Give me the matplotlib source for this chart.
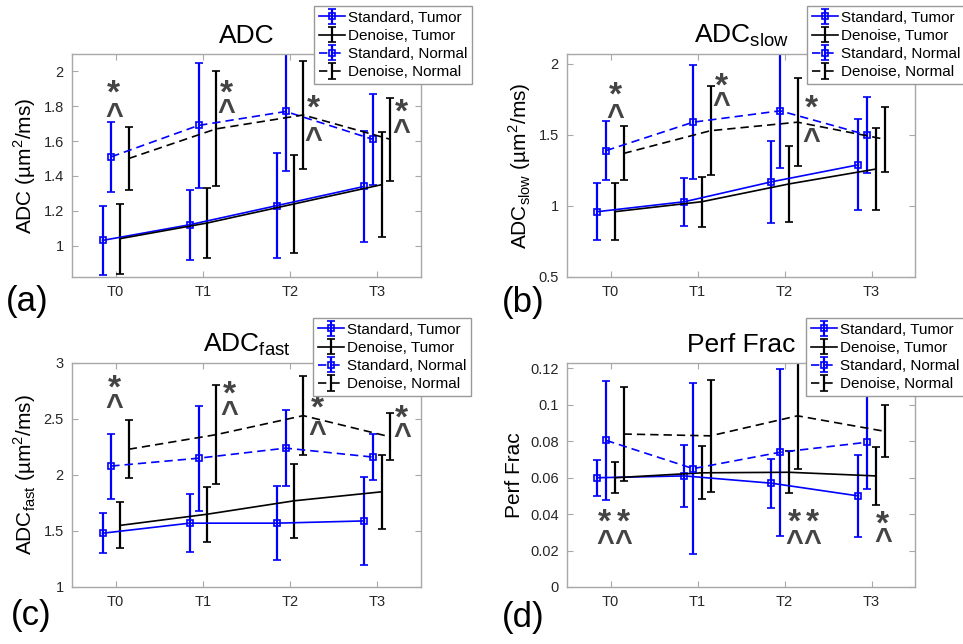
import matplotlib
matplotlib.use("Agg")
import matplotlib.pyplot as plt
import matplotlib.transforms as mtransforms
import numpy as np

plt.rcParams['font.family'] = ['Liberation Sans', 'DejaVu Sans']
plt.rcParams['mathtext.fontset'] = 'custom'
plt.rcParams['mathtext.rm'] = 'Liberation Sans'

timepoints = ['T0', 'T1', 'T2', 'T3']
series_labels = ['Standard, Tumor', 'Denoise, Tumor', 'Standard, Normal', 'Denoise, Normal']

# ADC
adc_std_tumor = [1.03, 1.12, 1.23, 1.34]
adc_std_tumor_err = [0.20, 0.20, 0.30, 0.32]
adc_den_tumor = [1.04, 1.13, 1.24, 1.35]
adc_den_tumor_err = [0.20, 0.20, 0.28, 0.30]
adc_std_normal = [1.51, 1.69, 1.77, 1.61]
adc_std_normal_err = [0.20, 0.36, 0.34, 0.26]
adc_den_normal = [1.50, 1.67, 1.75, 1.61]
adc_den_normal_err = [0.18, 0.33, 0.31, 0.24]

# ADC slow
slow_std_tumor = [0.96, 1.03, 1.17, 1.29]
slow_std_tumor_err = [0.20, 0.17, 0.29, 0.32]
slow_den_tumor = [0.96, 1.03, 1.155, 1.26]
slow_den_tumor_err = [0.20, 0.175, 0.27, 0.29]
slow_std_normal = [1.39, 1.59, 1.67, 1.50]
slow_std_normal_err = [0.21, 0.40, 0.40, 0.27]
slow_den_normal = [1.37, 1.53, 1.59, 1.47]
slow_den_normal_err = [0.19, 0.315, 0.31, 0.23]

# ADC fast
fast_std_tumor = [1.48, 1.57, 1.57, 1.59]
fast_std_tumor_err = [0.18, 0.26, 0.33, 0.39]
fast_den_tumor = [1.55, 1.65, 1.77, 1.85]
fast_den_tumor_err = [0.205, 0.245, 0.33, 0.33]
fast_std_normal = [2.08, 2.15, 2.24, 2.16]
fast_std_normal_err = [0.29, 0.47, 0.34, 0.205]
fast_den_normal = [2.23, 2.36, 2.53, 2.34]
fast_den_normal_err = [0.26, 0.44, 0.355, 0.21]

# Perfusion fraction
pf_std_tumor = [0.060, 0.061, 0.057, 0.050]
pf_std_tumor_err = [0.010, 0.017, 0.0135, 0.0225]
pf_den_tumor = [0.060, 0.0627, 0.063, 0.061]
pf_den_tumor_err = [0.0085, 0.0145, 0.0115, 0.0157]
pf_std_normal = [0.0805, 0.065, 0.074, 0.0795]
pf_std_normal_err = [0.0325, 0.047, 0.0458, 0.0256]
pf_den_normal = [0.084, 0.083, 0.094, 0.0855]
pf_den_normal_err = [0.0257, 0.0307, 0.0294, 0.0142]

# significance markers: x positions, star y, caret y
adc_sig_x = [0.98, 2.27, 3.27, 4.27]
adc_star_y = [1.90, 1.90, 1.81, 1.79]
adc_caret_y = [1.78, 1.80, 1.64, 1.685]
slow_sig_x = [1.06, 2.27, 3.31]
slow_star_y = [1.81, 1.875, 1.72]
slow_caret_y = [1.67, 1.755, 1.50]
fast_sig_x = [0.99, 2.30, 3.31, 4.28]
fast_star_y = [2.81, 2.76, 2.63, 2.54]
fast_caret_y = [2.66, 2.60, 2.42, 2.40]
pf_sig_x = [0.935, 1.145, 3.11, 3.32, 4.13]
pf_star_y = [0.0377, 0.0377, 0.0377, 0.0377, 0.0368]
pf_caret_y = [0.0276, 0.0276, 0.0276, 0.0276, 0.0285]

BLUE = '#0000ff'
ANN = '#444444'
SPINE = '#a8a8a8'
TXT = '#262626'

W, H = 963, 644
fig = plt.figure(figsize=(W / 100, H / 100), dpi=100)

def px_axes(l, t, r, b):
    return fig.add_axes([l / W, 1 - b / H, (r - l) / W, (b - t) / H])

panels = [
    dict(box=(72, 54, 421, 277), title='ADC', ylabel='ADC (µm$^\\mathregular{2}$/ms)',
         data=[(adc_std_tumor, adc_std_tumor_err), (adc_den_tumor, adc_den_tumor_err),
               (adc_std_normal, adc_std_normal_err), (adc_den_normal, adc_den_normal_err)],
         ylim=(0.82, 2.1), yticks=[1, 1.2, 1.4, 1.6, 1.8, 2],
         sig=(adc_sig_x, adc_star_y, adc_caret_y), leg=(314, 6), lab=('(a)', 6, 301)),
    dict(box=(567, 54, 915, 277), title='ADC$_\\mathregular{slow}$',
         ylabel='ADC$_\\mathregular{slow}$ (µm$^\\mathregular{2}$/ms)',
         data=[(slow_std_tumor, slow_std_tumor_err), (slow_den_tumor, slow_den_tumor_err),
               (slow_std_normal, slow_std_normal_err), (slow_den_normal, slow_den_normal_err)],
         ylim=(0.5, 2.07), yticks=[0.5, 1, 1.5, 2],
         sig=(slow_sig_x, slow_star_y, slow_caret_y), leg=(807, 6), lab=('(b)', 502, 302)),
    dict(box=(72, 363, 421, 587), title='ADC$_\\mathregular{fast}$',
         ylabel='ADC$_\\mathregular{fast}$ (µm$^\\mathregular{2}$/ms)',
         data=[(fast_std_tumor, fast_std_tumor_err), (fast_den_tumor, fast_den_tumor_err),
               (fast_std_normal, fast_std_normal_err), (fast_den_normal, fast_den_normal_err)],
         ylim=(1, 3), yticks=[1, 1.5, 2, 2.5, 3],
         sig=(fast_sig_x, fast_star_y, fast_caret_y), leg=(313, 318), lab=('(c)', 11, 616)),
    dict(box=(567, 363, 915, 587), title='Perf Frac', ylabel='Perf Frac',
         data=[(pf_std_tumor, pf_std_tumor_err), (pf_den_tumor, pf_den_tumor_err),
               (pf_std_normal, pf_std_normal_err), (pf_den_normal, pf_den_normal_err)],
         ylim=(0, 0.123), yticks=[0, 0.02, 0.04, 0.06, 0.08, 0.1, 0.12],
         sig=(pf_sig_x, pf_star_y, pf_caret_y), leg=(806, 318), lab=('(d)', 502, 618)),
]

offsets = [-0.15, 0.05, -0.05, 0.15]
styles = [
    dict(color=BLUE, ls='-', marker='s'),
    dict(color='black', ls='-', marker=None),
    dict(color=BLUE, ls=(0, (5, 3)), marker='s'),
    dict(color='black', ls=(0, (5, 3)), marker=None),
]

x = np.arange(1, len(timepoints) + 1)
STAR_FS = 24
CARET_FS = 22

for p in panels:
    ax = px_axes(*p['box'])
    handles = []
    for (vals, errs), off, st, lab in zip(p['data'], offsets, styles, series_labels):
        eb = ax.errorbar(x + off, vals, yerr=errs, color=st['color'], ls=st['ls'],
                         marker=st['marker'] if st['marker'] else '',
                         markersize=5, markerfacecolor='none', markeredgewidth=1.2,
                         lw=1.2, elinewidth=1.6, capsize=3, capthick=1.6, label=lab)
        handles.append(eb)
    ax.set_xlim(0.5, 4.5)
    ax.set_ylim(*p['ylim'])
    ax.set_xticks(x)
    ax.set_xticklabels(timepoints)
    ax.set_yticks(p['yticks'])
    ax.set_yticklabels(['%g' % v for v in p['yticks']])
    ax.tick_params(direction='in', top=True, right=True, length=4, width=0.8,
                   color=SPINE, labelcolor=TXT, labelsize=10.5, pad=6)
    for s in ax.spines.values():
        s.set_color(SPINE)
        s.set_linewidth(1.0)
    ax.set_title(p['title'], fontsize=19, pad=8)
    ax.set_ylabel(p['ylabel'], fontsize=15, labelpad=4)
    star_tr = mtransforms.offset_copy(ax.transData, fig=fig, y=-3.6, units='points')
    caret_tr = mtransforms.offset_copy(ax.transData, fig=fig, y=-5.0, units='points')
    sx, sy, cy = p['sig']
    for xx, y1, y2 in zip(sx, sy, cy):
        ax.text(xx, y1, '*', fontsize=STAR_FS, fontweight='bold', color=ANN,
                ha='center', va='center', clip_on=False, transform=star_tr)
        ax.text(xx, y2, '^', fontsize=CARET_FS, fontweight='bold', color=ANN,
                ha='center', va='center', clip_on=False, transform=caret_tr)
    lx, ly = p['leg']
    leg = ax.legend(handles=handles, loc='upper left', bbox_to_anchor=(lx / W, 1 - ly / H),
                    bbox_transform=fig.transFigure, fontsize=11, frameon=True,
                    fancybox=False, edgecolor='#999999', framealpha=1,
                    borderpad=0.3, labelspacing=0.28, handlelength=1.7,
                    handletextpad=0.2, borderaxespad=0)
    leg.get_frame().set_linewidth(1.0)
    t, lx2, ly2 = p['lab']
    fig.text(lx2 / W, 1 - ly2 / H, t, fontsize=25, ha='left', va='center')

fig.savefig('out.png', dpi=100)
